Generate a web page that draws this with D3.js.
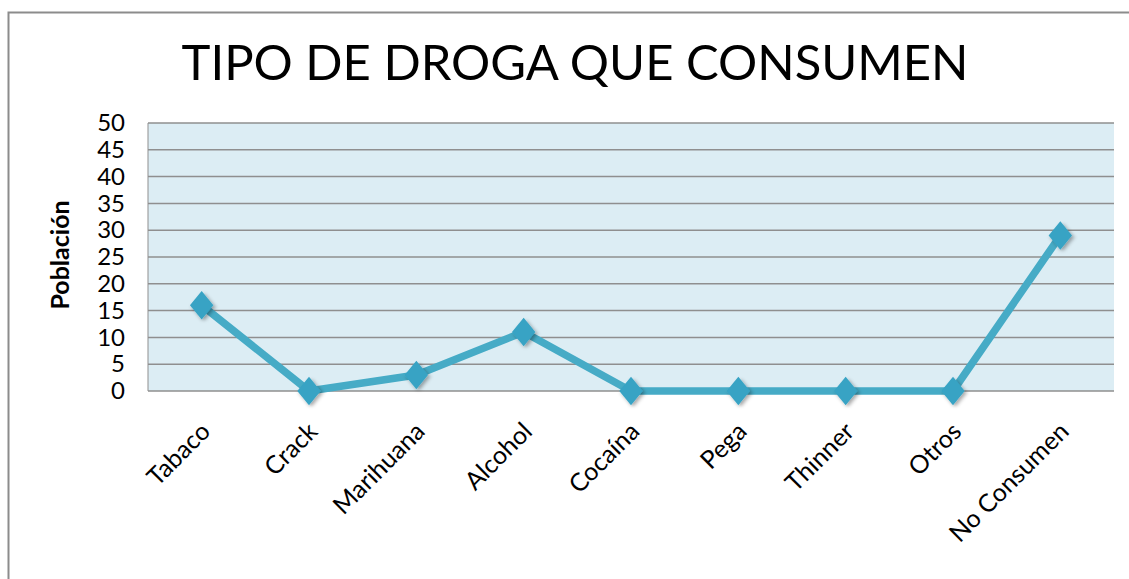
<!DOCTYPE html>
<html>
<head>
<meta charset="utf-8">
<script src="https://cdn.jsdelivr.net/npm/d3@7"></script>
<style>
  body { margin: 0; background: #fff; }
  svg { display: block; font-family: "Lato", "Open Sans", sans-serif; }
</style>
</head>
<body>
<svg id="chart"></svg>
<script>
// Chart data
const categories = ["Tabaco", "Crack", "Marihuana", "Alcohol", "Cocaína", "Pega", "Thinner", "Otros", "No Consumen"];
const values = [16, 0, 3, 11, 0, 0, 0, 0, 29];
const yTicks = [0, 5, 10, 15, 20, 25, 30, 35, 40, 45, 50];

const width = 1129;
const height = 579;
const margin = { top: 123, right: 15, bottom: 188, left: 148 };
const innerW = width - margin.left - margin.right;
const innerH = height - margin.top - margin.bottom;

const svg = d3.select("#chart")
    .attr("width", width)
    .attr("height", height);

// drop shadow for the markers
const defs = svg.append("defs");
const filter = defs.append("filter").attr("id", "shadow")
    .attr("x", "-50%").attr("y", "-50%").attr("width", "200%").attr("height", "200%");
filter.append("feDropShadow")
    .attr("dx", 1.5).attr("dy", 2).attr("stdDeviation", 1.5)
    .attr("flood-color", "#000").attr("flood-opacity", 0.35);

// Outer chart border
svg.append("rect")
    .attr("x", 8.5).attr("y", 12.5)
    .attr("width", width + 20).attr("height", height + 20)
    .attr("fill", "#fff")
    .attr("stroke", "#8c8c8c")
    .attr("stroke-width", 2);

// Title
svg.append("text")
    .attr("x", 575)
    .attr("y", 80)
    .attr("text-anchor", "middle")
    .style("font-size", "49px")
    .style("fill", "#000")
    .text("TIPO DE DROGA QUE CONSUMEN");

const g = svg.append("g")
    .attr("transform", `translate(${margin.left},${margin.top})`);

// Scales
const x = d3.scaleBand()
    .domain(categories)
    .range([0, innerW]);

const y = d3.scaleLinear()
    .domain([0, 50])
    .range([innerH, 0]);

// Plot background
g.append("rect")
    .attr("width", innerW)
    .attr("height", innerH)
    .attr("fill", "#dcedf4");

// Gridlines
g.selectAll(".grid")
    .data(yTicks)
    .enter()
    .append("line")
    .attr("class", "grid")
    .attr("x1", 0)
    .attr("x2", innerW)
    .attr("y1", d => y(d))
    .attr("y2", d => y(d))
    .attr("stroke", "#8f8f8f")
    .attr("stroke-width", 1.5);

// left edge of plot
g.append("line")
    .attr("x1", 0).attr("x2", 0)
    .attr("y1", 0).attr("y2", innerH)
    .attr("stroke", "#8f8f8f")
    .attr("stroke-width", 1);

// Y axis
const yAxis = g.append("g")
    .call(d3.axisLeft(y).tickValues(yTicks).tickSize(0).tickPadding(23));
yAxis.select(".domain").remove();
yAxis.selectAll("text")
    .style("font-size", "24px")
    .style("fill", "#000")
    .style("font-family", "Lato, 'Open Sans', sans-serif");

// Y axis label
svg.append("text")
    .attr("transform", `translate(69, ${margin.top + innerH / 2 - 2}) rotate(-90)`)
    .attr("text-anchor", "middle")
    .style("font-size", "25px")
    .style("font-weight", "bold")
    .text("Población");

// X axis labels
g.selectAll(".xlabel")
    .data(categories)
    .enter()
    .append("text")
    .attr("class", "xlabel")
    .attr("transform", d => `translate(${x(d) + x.bandwidth() / 2 + 10}, ${innerH + 42}) rotate(-45)`)
    .attr("text-anchor", "end")
    .style("font-size", "25px")
    .style("fill", "#000")
    .text(d => d);

// Line
const points = categories.map((c, i) => ({ cat: c, value: values[i] }));
const line = d3.line()
    .x(d => x(d.cat) + x.bandwidth() / 2)
    .y(d => y(d.value));

g.append("path")
    .datum(points)
    .attr("d", line)
    .attr("fill", "none")
    .attr("stroke", "#46abc6")
    .attr("stroke-width", 7.5)
    .attr("stroke-linejoin", "round");

// Diamond markers
g.selectAll(".marker")
    .data(points)
    .enter()
    .append("path")
    .attr("class", "marker")
    .attr("d", d3.symbol().type(d3.symbolDiamond).size(260))
    .attr("transform", d => `translate(${x(d.cat) + x.bandwidth() / 2}, ${y(d.value)}) scale(1.35,0.95)`)
    .attr("fill", "#37a3c4")
    .attr("filter", "url(#shadow)");
</script>
</body>
</html>
